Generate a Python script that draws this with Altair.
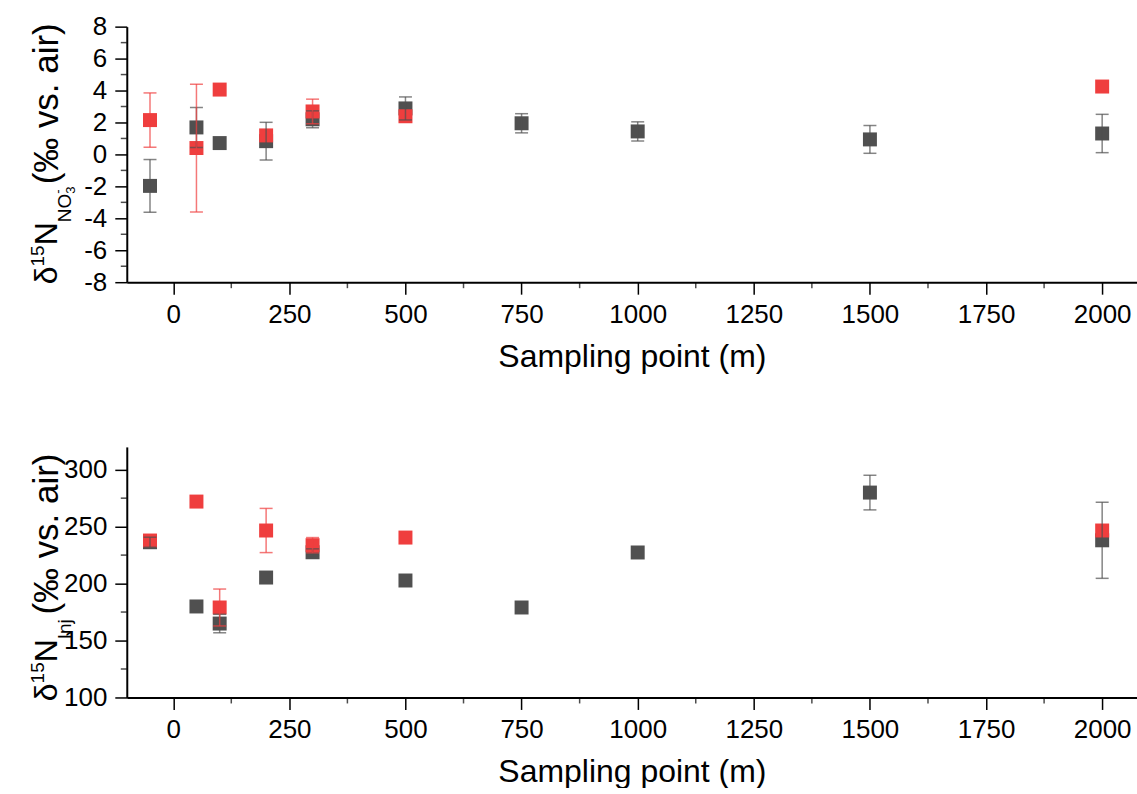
import altair as alt
import pandas as pd

# ---------------- data ----------------
x_points = [-50, 50, 100, 200, 300, 500, 750, 1000, 1500, 2000]
x_red = [-50, 50, 100, 200, 300, 500, 2000]

no3_dark = [-1.97, 1.69, 0.71, 0.83, 2.20, 2.88, 1.95, 1.44, 0.94, 1.31]
no3_dark_err = [1.65, 1.25, 0.0, 1.18, 0.53, 0.72, 0.60, 0.60, 0.87, 1.20]
no3_red = [2.15, 0.40, 4.06, 1.19, 2.69, 2.39, 4.25]
no3_red_err = [1.70, 4.00, 0.0, 0.0, 0.77, 0.0, 0.0]

inj_dark = [236.3, 179.9, 164.9, 205.3, 227.5, 202.7, 179.0, 227.3, 279.9, 238.0]
inj_dark_err = [4.4, 0.0, 8.1, 0.0, 3.0, 0.0, 0.0, 0.0, 15.2, 33.4]
inj_red = [237.8, 272.0, 179.0, 246.6, 233.7, 240.4, 246.6]
inj_red_err = [0.0, 0.0, 16.2, 19.4, 6.7, 0.0, 0.0]

x_major = [0, 250, 500, 750, 1000, 1250, 1500, 1750, 2000]
x_minor = [125, 375, 625, 875, 1125, 1375, 1625, 1875]
no3_major = [-8, -6, -4, -2, 0, 2, 4, 6, 8]
no3_minor = [-7, -5, -3, -1, 1, 3, 5, 7]
inj_major = [100, 150, 200, 250, 300]
inj_minor = [125, 175, 225, 275]

x_title = "Sampling point (m)"

FONT = "Liberation Sans"
DARK = "#505050"
RED = "#EF3E3E"
W = 1012
LABEL = "'' + datum.value"


def frame(xs, ys, errs):
    df = pd.DataFrame({"x": xs, "y": ys, "err": errs})
    df["lo"] = df["y"] - df["err"]
    df["hi"] = df["y"] + df["err"]
    return df


def title_layer(text, size, xr, yr):
    return alt.Chart(alt.Data(values=[{}])).mark_text(
        text=text, angle=270, align="left", baseline="alphabetic",
        font=FONT, fontSize=size, color="black"
    ).encode(x=alt.value(xr), y=alt.value(yr))


def panel(dark, red, y_domain, y_major, y_minor, H, pieces):
    xs = alt.Scale(domain=[-100, 2075], nice=False, zero=False)
    ys = alt.Scale(domain=y_domain, nice=False, zero=False)
    xaxis = alt.Axis(values=x_major, title=x_title, labelPadding=7,
                     titlePadding=14, labelFlush=False, labelExpr=LABEL)
    yaxis = alt.Axis(values=y_major, title=None, labelPadding=8, labelExpr=LABEL)

    def X(f):
        return alt.X(f, type="quantitative", scale=xs, axis=xaxis)

    def Y(f):
        return alt.Y(f, type="quantitative", scale=ys, axis=yaxis)

    layers = []
    for df, col in ((dark, DARK), (red, RED)):
        layers.append(alt.Chart(df).mark_point(
            shape="square", filled=True, size=196, opacity=1, strokeWidth=0
        ).encode(x=X("x"), y=Y("y"), color=alt.value(col)))
    for df, col in ((dark, DARK), (red, RED)):
        e = df[df["err"] > 0]
        layers.append(alt.Chart(e).mark_rule(
            color=col, strokeWidth=1.5, opacity=0.7
        ).encode(x=X("x"), y=Y("lo"), y2=alt.Y2("hi")))
        for end in ("lo", "hi"):
            layers.append(alt.Chart(e).mark_tick(
                orient="horizontal", size=13, thickness=1.5, color=col, opacity=0.7
            ).encode(x=X("x"), y=Y(end)))
    # minor ticks
    layers.append(alt.Chart(pd.DataFrame({"m": y_minor})).mark_tick(
        orient="horizontal", size=6, thickness=1.5, color="black"
    ).encode(y=Y("m"), x=alt.value(-3)))
    layers.append(alt.Chart(pd.DataFrame({"m": x_minor})).mark_tick(
        orient="vertical", size=6, thickness=1.5, color="black"
    ).encode(x=X("m"), y=alt.value(H + 3)))
    for p in pieces:
        layers.append(title_layer(*p))
    return alt.layer(*layers).properties(width=W, height=H)


top_pieces = [
    ("δ", 32, -70, 258),
    ("15", 19, -83, 240.2),
    ("N", 32, -70, 219.1),
    ("NO", 19, -56, 196.0),
    ("3", 13, -52, 167.5),
    ("-", 13, -65, 167.5),
    ("(‰ vs. air)", 35, -69, 158),
]
bot_pieces = [
    ("δ", 32, -70, 254.7),
    ("15", 19, -83, 236.9),
    ("N", 32, -70, 215.8),
    ("Inj", 19, -56, 192.7),
    ("(‰ vs. air)", 35, -69, 168),
]

top = panel(frame(x_points, no3_dark, no3_dark_err), frame(x_red, no3_red, no3_red_err),
            [-8, 8], no3_major, no3_minor, 256, top_pieces)
bottom = panel(frame(x_points, inj_dark, inj_dark_err), frame(x_red, inj_red, inj_red_err),
               [100, 320], inj_major, inj_minor, 251, bot_pieces)

chart = alt.vconcat(top, bottom, spacing=75).properties(
    padding={"left": 28, "top": 13, "right": 0, "bottom": 0},
    background="white",
).configure_view(stroke=None).configure_axis(
    domainColor="black", domainWidth=2, tickColor="black", tickWidth=1.5,
    tickSize=12, labelFont=FONT, labelFontSize=26, labelColor="black",
    titleFont=FONT, titleFontSize=32, titleFontWeight="normal", titleColor="black",
    grid=False,
)

chart.save("out.html", embed_options={"renderer": "svg", "actions": False})
